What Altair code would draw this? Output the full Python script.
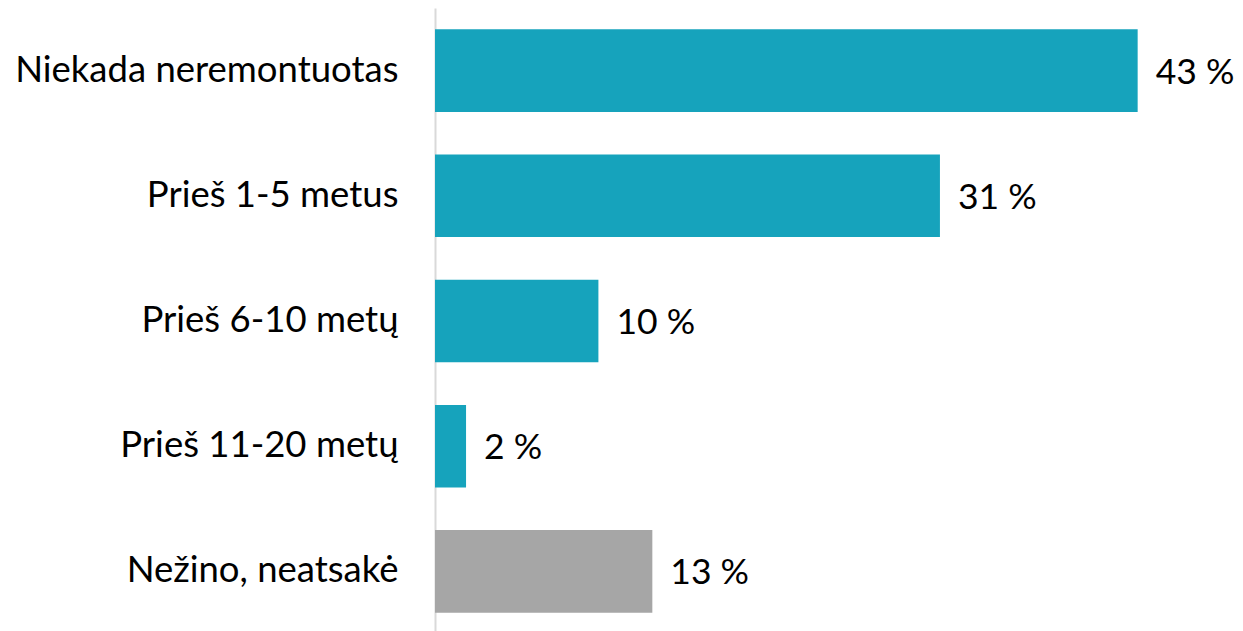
import altair as alt
import pandas as pd

categories = ["Niekada neremontuotas", "Prieš 1-5 metus", "Prieš 6-10 metų", "Prieš 11-20 metų", "Nežino, neatsakė"]
values = [43.0, 30.9, 10.0, 1.9, 13.3]
labels = ["43 %", "31 %", "10 %", "2 %", "13 %"]
groups = ["main", "main", "main", "main", "unknown"]

df = pd.DataFrame({"cat": categories, "val": values, "lab": labels, "grp": groups})

FONT = "Lato"
FS = 36.5

y = alt.Y("cat:N", sort=categories, title=None,
          scale=alt.Scale(paddingInner=0.34, paddingOuter=0.17),
          axis=alt.Axis(ticks=False, labelPadding=37, labelFont=FONT, labelFontSize=FS,
                        labelColor="#000000", domainColor="#D9D9D9", domainWidth=2,
                        labelLimit=600))
x = alt.X("val:Q", axis=None, scale=alt.Scale(domain=[0, 44], nice=False))

bars = alt.Chart(df).mark_bar().encode(
    x=x, y=y,
    color=alt.Color("grp:N", scale=alt.Scale(domain=["main", "unknown"], range=["#16A3BC", "#A6A6A6"]), legend=None),
)
text = alt.Chart(df).mark_text(align="left", baseline="middle", dx=18, dy=2, font=FONT, fontSize=35.5, color="#000000").encode(
    x=x, y=y, text="lab:N"
)

chart = (bars + text).properties(
    width=719, height=626,
    autosize=alt.AutoSizeParams(type="none"),
    padding={"left": 427, "top": 0, "right": 81, "bottom": 0},
).configure_view(stroke=None)

chart.save("out.html", embed_options={"renderer": "svg", "actions": False})
